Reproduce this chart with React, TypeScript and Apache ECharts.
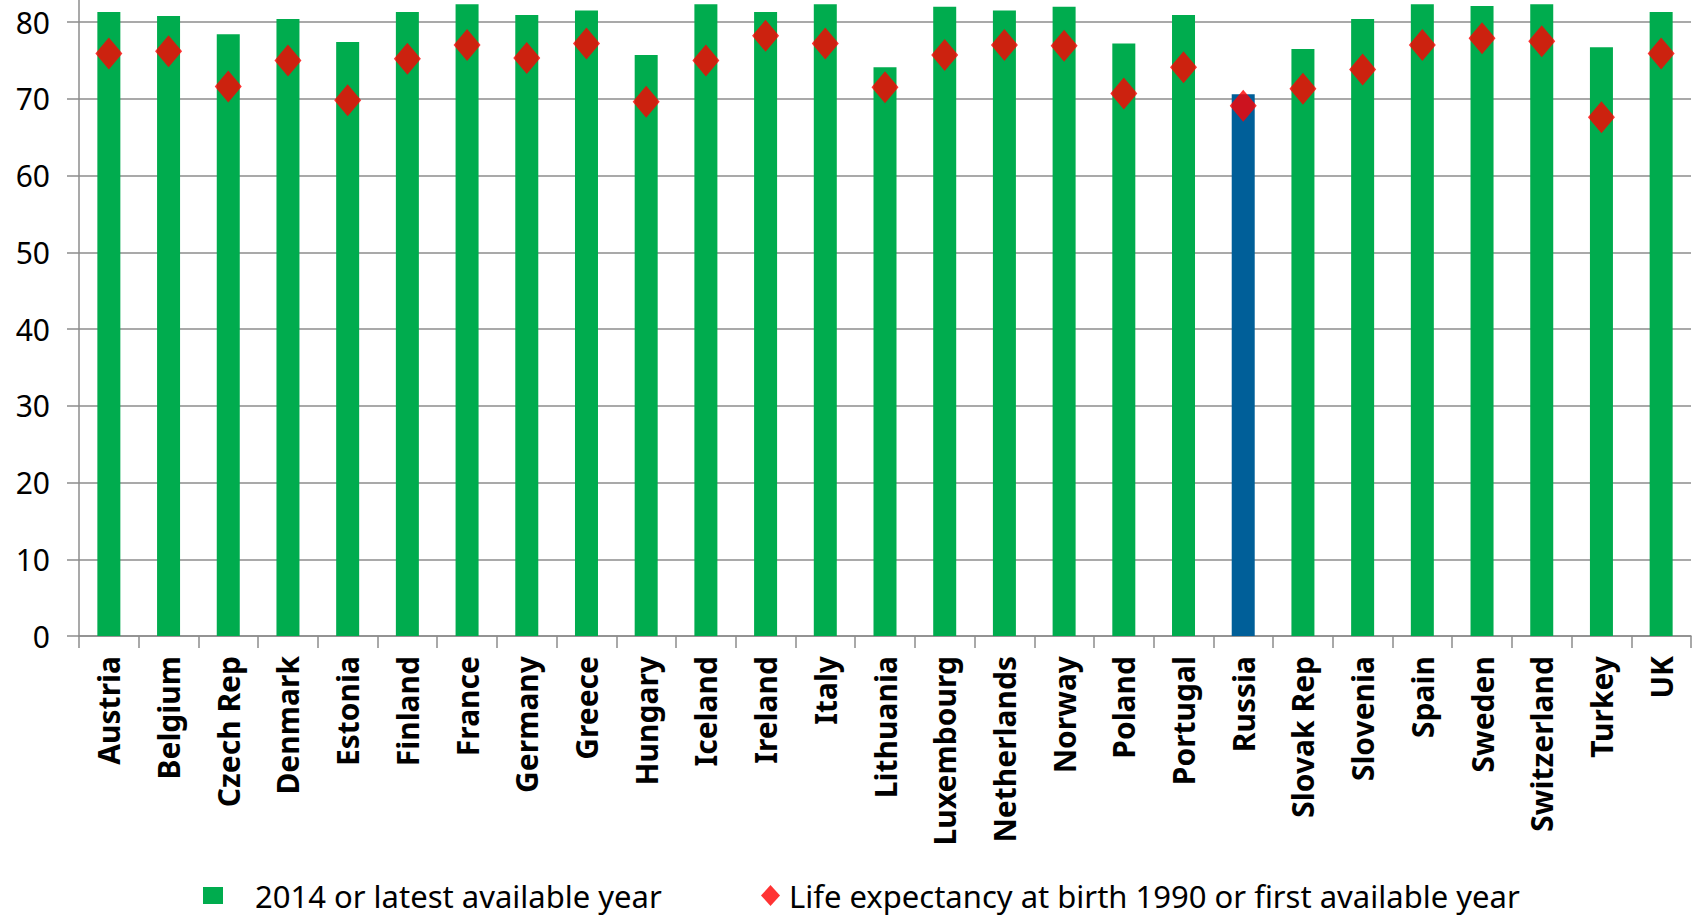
import React, { useEffect, useRef } from "react";
import * as echarts from "echarts";

// Countries along the horizontal axis
const countries = [
  "Austria", "Belgium", "Czech Rep", "Denmark", "Estonia", "Finland", "France",
  "Germany", "Greece", "Hungary", "Iceland", "Ireland", "Italy", "Lithuania",
  "Luxembourg", "Netherlands", "Norway", "Poland", "Portugal", "Russia",
  "Slovak Rep", "Slovenia", "Spain", "Sweden", "Switzerland", "Turkey", "UK",
];

// Life expectancy, 2014 or latest available year
const latest = [
  81.3, 80.8, 78.4, 80.4, 77.4, 81.3, 82.3, 80.9, 81.5, 75.7, 82.3, 81.3, 82.3,
  74.1, 82.0, 81.5, 82.0, 77.2, 80.9, 70.6, 76.5, 80.4, 82.3, 82.1, 82.3, 76.7,
  81.3,
];

// Life expectancy at birth, 1990 or first available year
const first = [
  75.9, 76.2, 71.6, 75.0, 69.8, 75.2, 77.0, 75.3, 77.2, 69.6, 75.0, 78.2, 77.2,
  71.5, 75.7, 77.0, 76.9, 70.7, 74.1, 69.1, 71.3, 73.8, 77.0, 77.9, 77.5, 67.6,
  75.9,
];

const yTicks = [0, 10, 20, 30, 40, 50, 60, 70, 80];

const seriesNames = [
  "2014 or latest available year",
  "Life expectancy at birth 1990 or first available year",
];

const GREEN = "#00AC4E";
const BLUE = "#005F99";
const RED = "#FF0000";
const GRID_GRAY = "#8C8C8C";
const FONT = "Noto Sans";

export default function App() {
  const ref = useRef<HTMLDivElement>(null);

  useEffect(() => {
    if (!ref.current) return;
    const chart = echarts.init(ref.current, undefined, { renderer: "svg" });

    const barData = latest.map((v, i) =>
      countries[i] === "Russia" ? { value: v, itemStyle: { color: BLUE } } : v
    );

    chart.setOption({
      animation: false,
      backgroundColor: "#ffffff",
      textStyle: { fontFamily: FONT },
      grid: { left: 79, right: 13, top: 0, bottom: 281 },
      legend: [
        {
          data: [seriesNames[0]],
          left: 198,
          top: 875,
          icon: "rect",
          itemWidth: 20,
          itemHeight: 17,
          textStyle: {
            fontFamily: FONT,
            fontSize: 31,
            color: "#000",
            padding: [0, 0, 0, 27],
          },
        },
        {
          data: [seriesNames[1]],
          left: 756,
          top: 875,
          icon: "diamond",
          itemWidth: 19,
          itemHeight: 21,
          textStyle: {
            fontFamily: FONT,
            fontSize: 31,
            color: "#000",
            padding: [0, 0, 0, 4],
          },
        },
      ],
      xAxis: {
        type: "category",
        data: countries,
        boundaryGap: true,
        axisLine: { show: true, lineStyle: { color: GRID_GRAY, width: 1.5 } },
        axisTick: {
          show: true,
          alignWithLabel: false,
          length: 12,
          lineStyle: { color: GRID_GRAY, width: 1.5 },
        },
        axisLabel: {
          rotate: 90,
          interval: 0,
          margin: 20,
          fontFamily: FONT,
          fontSize: 30,
          fontWeight: "bold",
          color: "#000",
        },
      },
      yAxis: {
        type: "value",
        min: 0,
        max: 82.87,
        interval: 10,
        axisLine: { show: true, lineStyle: { color: GRID_GRAY, width: 1.5 } },
        axisTick: { show: true, length: 12, lineStyle: { color: GRID_GRAY, width: 1.5 } },
        splitLine: {
          show: true,
          showMaxLine: false,
          lineStyle: { color: GRID_GRAY, width: 1.5 },
        },
        axisLabel: {
          margin: 29,
          showMaxLabel: false,
          fontFamily: FONT,
          fontSize: 30,
          color: "#000",
          formatter: (v: number) => (yTicks.includes(v) ? String(v) : ""),
        },
      },
      series: [
        {
          name: seriesNames[0],
          type: "bar",
          data: barData,
          barWidth: 23,
          itemStyle: { color: GREEN },
          z: 2,
        },
        {
          name: seriesNames[1],
          type: "scatter",
          data: first,
          symbol: "diamond",
          symbolSize: [27, 32],
          itemStyle: { color: RED },
          z: 3,
        },
      ],
    });

    return () => chart.dispose();
  }, []);

  return (
    <div
      ref={ref}
      style={{ position: "fixed", left: 0, top: 0, width: 1704, height: 917 }}
    />
  );
}
